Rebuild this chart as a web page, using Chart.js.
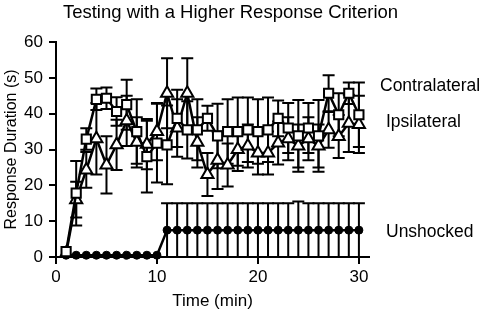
<!DOCTYPE html>
<html lang="en">
<head>
    <meta charset="UTF-8">
    <title>Testing with a Higher Response Criterion</title>
    <script src="https://cdn.jsdelivr.net/npm/chart.js"></script>
    <style>
        body {
            margin: 0;
            padding: 0;
            background: #ffffff;
        }
        #wrap {
            width: 490px;
            height: 312px;
        }
    </style>
</head>
<body>
    <div id="wrap"><canvas id="chart" width="490" height="312"></canvas></div>

    <script>
        // time points (min)
        const minutes = [1, 2, 3, 4, 5, 6, 7, 8, 9, 10, 11, 12, 13, 14, 15, 16, 17, 18, 19, 20, 21, 22, 23, 24, 25, 26, 27, 28, 29, 30];

        // mean response duration (s) and error (+/-)
        const contraMean = [1.5, 17.8, 32.9, 44, 44.3, 40.6, 42.5, 35, 28, 31.8, 31.3, 38.7, 35.5, 35.5, 38.7, 33.8, 35, 35, 35.5, 35, 35.5, 38.7, 36, 33.8, 36, 33.8, 45.7, 39.7, 45.7, 39.7];
        const contraErr = [0, 9, 3, 3, 3, 4, 7, 9, 10, 11, 11, 8, 8, 8.5, 3.5, 9, 9, 9.5, 9, 9, 9, 5, 7, 10, 7, 10, 5, 6, 3, 9];

        const ipsiMean = [1, 16, 24.3, 33, 25.7, 31.3, 38, 32, 31.5, 35, 45.7, 36, 45.7, 32, 23, 27, 25.7, 30, 31, 29, 29, 31.8, 33, 31, 33, 31, 35.5, 33.6, 37.3, 37];
        const ipsiErr = [0, 5, 5, 10, 8, 7, 7, 7, 7, 8, 9.8, 8, 9.8, 7, 6, 8, 6, 6, 6, 6, 6, 6, 6, 6, 6, 6, 5, 6, 8, 8];

        const unshockMean = [0.5, 0.5, 0.5, 0.5, 0.5, 0.5, 0.5, 0.5, 0.5, 0.5, 7.5, 7.5, 7.5, 7.5, 7.5, 7.5, 7.5, 7.5, 7.5, 7.5, 7.5, 7.5, 7.5, 7.5, 7.5, 7.5, 7.5, 7.5, 7.5, 7.5];
        const unshockErr = [0, 0, 0, 0, 0, 0, 0, 0, 0, 0, 7.5, 7.5, 7.5, 7.5, 7.5, 7.5, 7.5, 7.5, 7.5, 7.5, 7.5, 7.5, 7.5, 8, 7.5, 7.5, 7.5, 7.5, 7.5, 7.5];

        const xTicks = [0, 10, 20, 30];
        const yTicks = [0, 10, 20, 30, 40, 50, 60];

        // series names shown at right, with the y value they sit at
        const seriesNames = ["Contralateral", "Ipsilateral", "Unshocked"];
        const nameLevels = [47.8, 37.5, 7];

        const toPoints = (ys) => minutes.map((m, i) => ({ x: m, y: ys[i] }));

        const font = "'Liberation Sans', Arial, sans-serif";

        // error bars, drawn under the markers
        const errorBars = {
            id: "errorBars",
            beforeDatasetsDraw(chart) {
                const ctx = chart.ctx;
                const xs = chart.scales.x;
                const ys = chart.scales.y;
                const errs = [contraErr, ipsiErr, unshockErr];
                ctx.save();
                ctx.strokeStyle = "#000";
                ctx.lineWidth = 2;
                chart.data.datasets.forEach((ds, d) => {
                    ds.data.forEach((p, i) => {
                        const e = errs[d][i];
                        if (!e) return;
                        const px = xs.getPixelForValue(p.x);
                        const top = ys.getPixelForValue(p.y + e);
                        const bot = ys.getPixelForValue(Math.max(0, p.y - e));
                        ctx.beginPath();
                        ctx.moveTo(px, top);
                        ctx.lineTo(px, bot);
                        ctx.moveTo(px - 6, top);
                        ctx.lineTo(px + 6, top);
                        ctx.moveTo(px - 6, bot);
                        ctx.lineTo(px + 6, bot);
                        ctx.stroke();
                    });
                });
                ctx.restore();
            }
        };

        // title and series names
        const textLabels = {
            id: "textLabels",
            afterDraw(chart) {
                const ctx = chart.ctx;
                const area = chart.chartArea;
                const ys = chart.scales.y;
                ctx.save();
                ctx.fillStyle = "#000";
                ctx.textBaseline = "middle";
                ctx.textAlign = "center";
                ctx.font = "18.5px " + font;
                ctx.fillText("Testing with a Higher Response Criterion", 230.5, 13);
                ctx.textAlign = "left";
                ctx.font = "17.5px " + font;
                seriesNames.forEach((name, i) => {
                    const dx = i === 0 ? 11 : 17;
                    ctx.fillText(name, area.right + dx, ys.getPixelForValue(nameLevels[i]));
                });
                ctx.restore();
            }
        };

        new Chart(document.getElementById("chart"), {
            type: "line",
            data: {
                datasets: [
                    {
                        label: "Contralateral",
                        data: toPoints(contraMean),
                        borderColor: "#000",
                        borderWidth: 2.5,
                        pointStyle: "rect",
                        pointRadius: 6.5,
                        pointBorderWidth: 2,
                        pointBackgroundColor: "#fff",
                        pointBorderColor: "#000"
                    },
                    {
                        label: "Ipsilateral",
                        data: toPoints(ipsiMean),
                        borderColor: "#000",
                        borderWidth: 2.5,
                        pointStyle: "triangle",
                        pointRadius: 7,
                        pointBorderWidth: 2,
                        pointBackgroundColor: "#fff",
                        pointBorderColor: "#000"
                    },
                    {
                        label: "Unshocked",
                        data: toPoints(unshockMean),
                        borderColor: "#000",
                        borderWidth: 2.5,
                        pointStyle: "circle",
                        pointRadius: 4,
                        pointBorderWidth: 1,
                        pointBackgroundColor: "#000",
                        pointBorderColor: "#000"
                    }
                ]
            },
            options: {
                responsive: false,
                animation: false,
                clip: false,
                layout: {
                    padding: { top: 42, right: 121, left: 0, bottom: 0 }
                },
                plugins: {
                    legend: { display: false },
                    tooltip: { enabled: false }
                },
                scales: {
                    x: {
                        type: "linear",
                        min: 0,
                        max: 31,
                        afterBuildTicks: (scale) => { scale.ticks = xTicks.map(v => ({ value: v })); },
                        afterFit: (scale) => { scale.height = 55; },
                        border: { color: "#000", width: 2 },
                        grid: { drawOnChartArea: false, color: "#000", lineWidth: 2, tickLength: 7 },
                        ticks: { color: "#000", font: { family: font, size: 17 }, padding: 3, maxRotation: 0 },
                        title: { display: true, text: "Time (min)", color: "#000", font: { family: font, size: 17 }, padding: { top: 0, bottom: 0 } }
                    },
                    y: {
                        min: 0,
                        max: 60,
                        afterBuildTicks: (scale) => { scale.ticks = yTicks.map(v => ({ value: v })); },
                        afterFit: (scale) => { scale.width = 56; },
                        border: { color: "#000", width: 2 },
                        grid: { drawOnChartArea: false, color: "#000", lineWidth: 2, tickLength: 7 },
                        ticks: { color: "#000", font: { family: font, size: 17 }, padding: 6 },
                        title: { display: true, text: "Response Duration (s)", color: "#000", font: { family: font, size: 16 }, padding: { top: 2, bottom: 0 } }
                    }
                }
            },
            plugins: [errorBars, textLabels]
        });
    </script>
</body>
</html>
